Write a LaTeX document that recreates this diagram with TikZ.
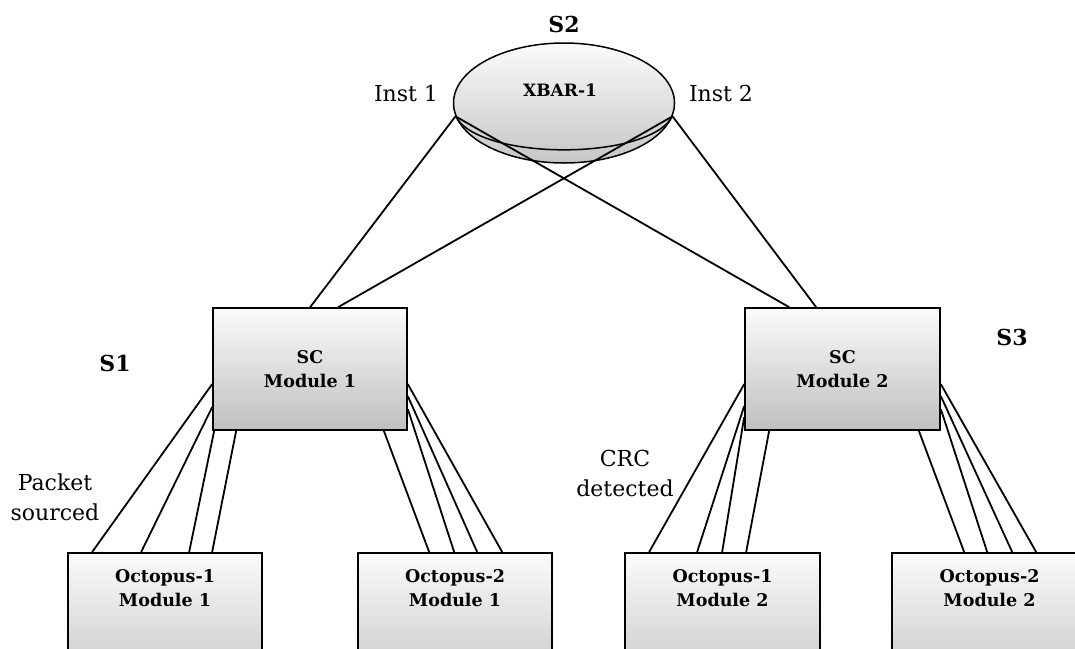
\documentclass[tikz,border=0pt]{standalone}
\usepackage{fontspec}
\setmainfont{DejaVu Serif}
\usetikzlibrary{calc,shapes.geometric}
\begin{document}
\begin{tikzpicture}[x=1pt,y=-1pt,
  boxnode/.style={draw=black, line width=1.7pt, rectangle, top color=gray!3, bottom color=gray!50, inner sep=0pt},
  wire/.style={draw=black, line width=1.8pt},
  boldlbl/.style={font=\bfseries\fontsize{17.5}{24}\selectfont, align=center},
  plainlbl/.style={font=\fontsize{22}{30}\selectfont, align=center},
  biglbl/.style={font=\bfseries\fontsize{22}{26}\selectfont}]
\useasboundingbox (0,0) rectangle (1075,648);
\clip (0,0) rectangle (1075,648);

% crossbar
\node[ellipse, draw=black, line width=1.5pt, top color=gray!3, bottom color=gray!45,
      minimum width=221pt, minimum height=120pt, inner sep=0pt] (xbar) at (564,103) {};
\draw[line width=1.5pt] (xbar.187.5) .. controls (480,161) and (648,161) .. (xbar.-7.5);

% boxes
\node[boxnode, minimum width=194pt, minimum height=122pt] (sc1) at (310,369) {};
\node[boxnode, minimum width=195pt, minimum height=122pt] (sc2) at (842.5,369) {};
\node[boxnode, minimum width=194pt, minimum height=150pt, anchor=north] (o11) at (165,552) {};
\node[boxnode, minimum width=194pt, minimum height=150pt, anchor=north] (o21) at (455,552) {};
\node[boxnode, minimum width=195pt, minimum height=150pt, anchor=north] (o12) at (722.5,552) {};
\node[boxnode, minimum width=195pt, minimum height=150pt, anchor=north] (o22) at (989.5,552) {};

% box texts
\node[boldlbl] (sc1t) at (310,369) {SC\\Module 1};
\node[boldlbl] (sc2t) at (842.5,369) {SC\\Module 2};
\node[boldlbl] (o11t) at (165,588) {Octopus-1\\Module 1};
\node[boldlbl] (o21t) at (455,588) {Octopus-2\\Module 1};
\node[boldlbl] (o12t) at (722.5,588) {Octopus-1\\Module 2};
\node[boldlbl] (o22t) at (989.5,588) {Octopus-2\\Module 2};
\node[font=\bfseries\fontsize{17}{20}\selectfont] (xbart) at (560,90) {XBAR-1};

% labels
\node[biglbl] (s2) at (564,24) {S2};
\node[biglbl] (s1) at (115,363) {S1};
\node[biglbl] (s3) at (1012,337) {S3};
\node[plainlbl] (inst1) at (406,93) {Inst 1};
\node[plainlbl] (inst2) at (721,93) {Inst 2};
\node[plainlbl] (pkt) at (55,497) {Packet\\sourced};
\node[plainlbl] (crc) at (625,473) {CRC\\detected};

% crossbar links
\draw[wire] (xbar.187.5) -- ($(sc1.north west)+(98,0)$);
\draw[wire] (xbar.187.5) -- ($(sc2.north west)+(45,0)$);
\draw[wire] (xbar.-7.5) -- ($(sc1.north west)+(126,0)$);
\draw[wire] (xbar.-7.5) -- ($(sc2.north west)+(72,0)$);

% SC1 -> Octopus-1 Module 1
\draw[wire] ($(sc1.north west)+(0,77)$) -- ($(o11.north west)+(25,0)$);
\draw[wire] ($(sc1.north west)+(0,100)$) -- ($(o11.north west)+(74,0)$);
\draw[wire] ($(sc1.south west)+(2,0)$) -- ($(o11.north west)+(122,0)$);
\draw[wire] ($(sc1.south west)+(24,0)$) -- ($(o11.north west)+(145,0)$);
% SC1 -> Octopus-2 Module 1
\draw[wire] ($(sc1.south east)+(-24,0)$) -- ($(o21.north west)+(72,0)$);
\draw[wire] ($(sc1.north east)+(0,102)$) -- ($(o21.north west)+(97,0)$);
\draw[wire] ($(sc1.north east)+(0,89)$) -- ($(o21.north west)+(120,0)$);
\draw[wire] ($(sc1.north east)+(0,77)$) -- ($(o21.north west)+(145,0)$);
% SC2 -> Octopus-1 Module 2
\draw[wire] ($(sc2.north west)+(0,77)$) -- ($(o12.north west)+(25,0)$);
\draw[wire] ($(sc2.north west)+(0,99)$) -- ($(o12.north west)+(73,0)$);
\draw[wire] ($(sc2.north west)+(0,110)$) -- ($(o12.north west)+(98,0)$);
\draw[wire] ($(sc2.south west)+(25,0)$) -- ($(o12.north west)+(122,0)$);
% SC2 -> Octopus-2 Module 2
\draw[wire] ($(sc2.south east)+(-22,0)$) -- ($(o22.north west)+(73,0)$);
\draw[wire] ($(sc2.north east)+(0,102)$) -- ($(o22.north west)+(96,0)$);
\draw[wire] ($(sc2.north east)+(0,89)$) -- ($(o22.north west)+(121,0)$);
\draw[wire] ($(sc2.north east)+(0,77)$) -- ($(o22.north west)+(145,0)$);
\end{tikzpicture}
\end{document}
